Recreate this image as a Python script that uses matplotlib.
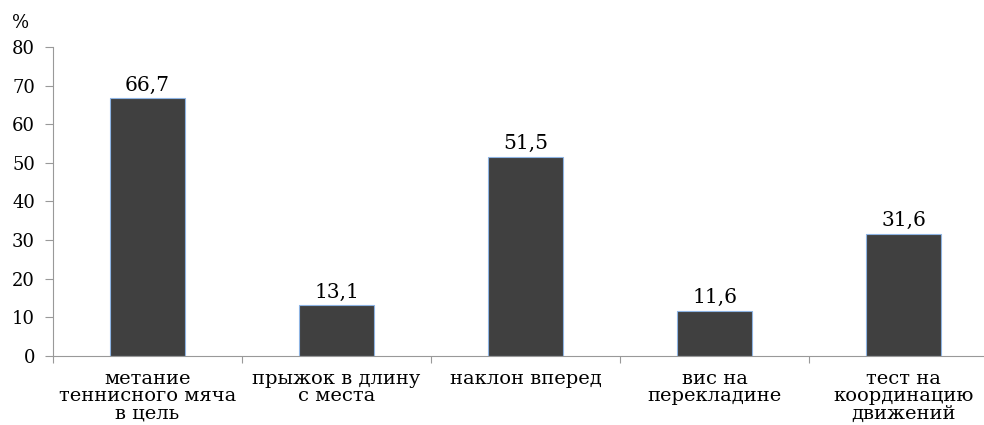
import matplotlib.pyplot as plt
import numpy as np

plt.rcParams['font.family'] = ['DejaVu Serif']

categories = ['метание\nтеннисного мяча\nв цель', 'прыжок в длину\nс места', 'наклон вперед',
              'вис на\nперекладине', 'тест на\nкоординацию\nдвижений']
values = [66.7, 13.1, 51.5, 11.6, 31.6]
value_labels = ['66,7', '13,1', '51,5', '11,6', '31,6']
yticks = [0, 10, 20, 30, 40, 50, 60, 70, 80]

fig = plt.figure(figsize=(9.84, 4.25), dpi=100)
ax = fig.add_axes([0.0539, 0.1624, 0.9604, 0.727])

x = np.arange(len(categories))
bars = ax.bar(x, values, width=0.40, color='#404040', edgecolor='#8eb4e3', linewidth=0.8)
for xi, v, lab in zip(x, values, value_labels):
    ax.text(xi, v + 1.0, lab, ha='center', va='bottom', fontsize=14.5)

ax.set_xlim(-0.5, len(categories) - 0.5)
ax.set_ylim(0, 80)
ax.set_yticks(yticks)
ax.tick_params(axis='y', labelsize=13, length=6, color='#999999', pad=7)

ax.set_xticks(np.arange(len(categories) + 1) - 0.5)
ax.set_xticklabels([])
ax.tick_params(axis='x', length=5, color='#999999')
ax.set_xticks(x, minor=True)
ax.set_xticklabels(categories, minor=True, fontsize=14, linespacing=0.95)
ax.tick_params(axis='x', which='minor', length=0, pad=10)

for s in ['top', 'right']:
    ax.spines[s].set_visible(False)
ax.spines['left'].set_color('#999999')
ax.spines['bottom'].set_color('#999999')

fig.text(0.012, 0.935, '%', fontsize=13)

fig.savefig('out.png', dpi=100)
